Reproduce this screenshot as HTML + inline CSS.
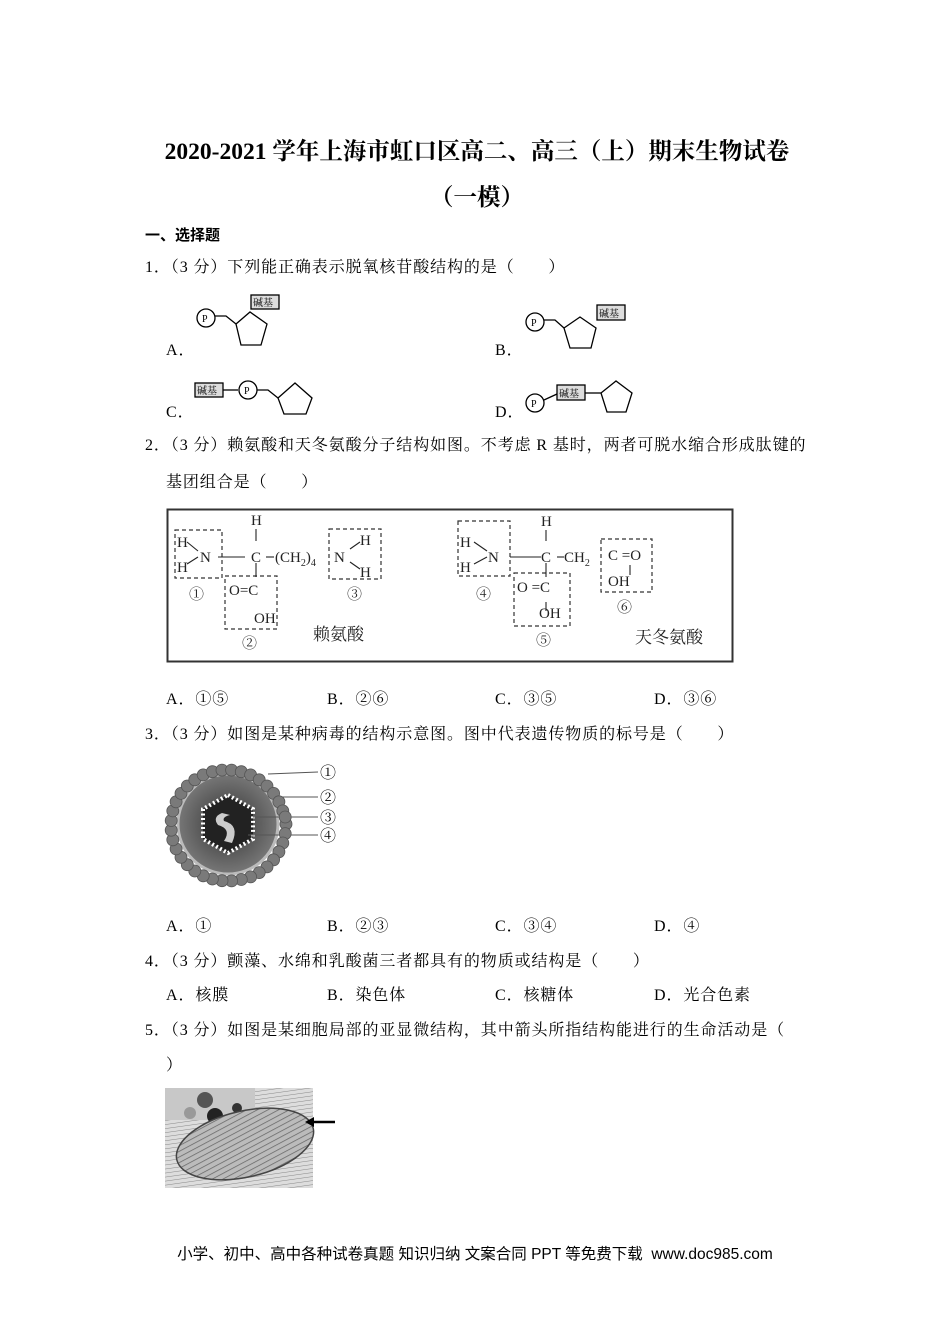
<!DOCTYPE html>
<html><head><meta charset="utf-8">
<style>
body{margin:0;background:#fff;}
#p{position:relative;width:950px;height:1344px;overflow:hidden;font-family:"Liberation Serif","Noto Serif CJK SC",serif;color:#000;font-size:16px;letter-spacing:0.9px;}
.t{position:absolute;white-space:nowrap;line-height:20px;}
svg{position:absolute;letter-spacing:0;}
.s text{font-family:"Liberation Serif","Noto Serif CJK SC",serif;}
</style></head><body><div id="p">
<div class="t" style="left:0;width:954px;text-align:center;top:137px;font-size:23.5px;line-height:30px;font-weight:bold;letter-spacing:0;">2020-2021 学年上海市虹口区高二、高三（上）期末生物试卷</div>
<div class="t" style="left:0;width:954px;text-align:center;top:183px;font-size:23.5px;line-height:30px;font-weight:bold;letter-spacing:0;">（一模）</div>
<div class="t" style="left:145px;top:226px;font-weight:bold;font-family:'Liberation Sans','Noto Sans CJK SC',sans-serif;font-size:15px;letter-spacing:0;">一、选择题</div>
<div class="t" style="left:145px;top:258px;">1．（3 分）下列能正确表示脱氧核苷酸结构的是（　　）</div>

<svg class="s" style="left:160px;top:290px" width="500" height="140" viewBox="0 0 500 140">
 <g fill="none" stroke="#000" stroke-width="1.3" font-size="10">
  <circle cx="46" cy="28" r="9"/><text x="42" y="32" stroke="none" fill="#000">P</text>
  <path d="M55 26 L66 26 L76 34"/>
  <polygon points="76,34 90,22 107,34 101,55 81,55"/>
  <rect x="91" y="5" width="28" height="14" fill="#ddd"/><text x="93" y="16" stroke="none" fill="#000" font-size="10">碱基</text>
  <circle cx="375" cy="32" r="9"/><text x="371" y="36" stroke="none" fill="#000">P</text>
  <path d="M384 30 L395 30 L404 38"/>
  <polygon points="404,38 420,27 436,38 431,58 410,58"/>
  <rect x="437" y="15" width="28" height="15" fill="#ddd"/><text x="439" y="27" stroke="none" fill="#000">碱基</text>
  <rect x="35" y="93" width="28" height="14" fill="#ddd"/><text x="37" y="104" stroke="none" fill="#000">碱基</text>
  <path d="M63 100 L78 100"/>
  <circle cx="88" cy="100" r="9"/><text x="84" y="104" stroke="none" fill="#000">P</text>
  <path d="M97 100 L108 100 L118 108"/>
  <polygon points="118,108 135,93 152,108 146,124 124,124"/>
  <circle cx="375" cy="113" r="9"/><text x="371" y="117" stroke="none" fill="#000">P</text>
  <path d="M384 110 L397 104"/>
  <rect x="397" y="95" width="28" height="15" fill="#ddd"/><text x="399" y="107" stroke="none" fill="#000">碱基</text>
  <path d="M425 103 L441 103"/>
  <polygon points="441,103 456,91 472,103 466,122 447,122"/>
 </g>
</svg>
<div class="t" style="left:166px;top:341px;">A．</div>
<div class="t" style="left:495px;top:341px;">B．</div>
<div class="t" style="left:166px;top:403px;">C．</div>
<div class="t" style="left:495px;top:403px;">D．</div>

<div class="t" style="left:145px;top:436px;">2．（3 分）赖氨酸和天冬氨酸分子结构如图。不考虑 R 基时，两者可脱水缩合形成肽键的</div>
<div class="t" style="left:166px;top:473px;">基团组合是（　　）</div>

<svg class="s" style="left:160px;top:505px" width="580" height="162" viewBox="0 0 580 162">
 <rect x="7.5" y="4.5" width="565" height="152" fill="none" stroke="#333" stroke-width="2"/>
 <g font-size="15" fill="#222">
  <g fill="none" stroke="#333" stroke-width="1.2" stroke-dasharray="4,3">
   <rect x="15" y="25" width="47" height="48"/>
   <rect x="65" y="71" width="52" height="53"/>
   <rect x="169" y="24" width="52" height="50"/>
   <rect x="298" y="16" width="52" height="55"/>
   <rect x="354" y="68" width="56" height="53"/>
   <rect x="441" y="34" width="51" height="53"/>
  </g>
  <g stroke="#222" stroke-width="1.1">
   <line x1="27" y1="37" x2="38" y2="46"/><line x1="27" y1="59" x2="38" y2="52"/>
   <line x1="58" y1="52" x2="85" y2="52"/><line x1="96" y1="24" x2="96" y2="36"/>
   <line x1="96" y1="58" x2="96" y2="72"/><line x1="106" y1="52" x2="114" y2="52"/>
   <line x1="190" y1="44" x2="200" y2="37"/><line x1="190" y1="57" x2="200" y2="64"/>
   <line x1="314" y1="37" x2="327" y2="46"/><line x1="314" y1="59" x2="327" y2="52"/>
   <line x1="350" y1="52" x2="381" y2="52"/><line x1="386" y1="25" x2="386" y2="36"/>
   <line x1="386" y1="58" x2="386" y2="72"/><line x1="397" y1="52" x2="404" y2="52"/>
   <line x1="386" y1="97" x2="386" y2="106"/><line x1="470" y1="60" x2="470" y2="70"/>
  </g>
  <text x="17" y="42">H</text><text x="17" y="67">H</text><text x="40" y="57">N</text>
  <text x="91" y="20">H</text><text x="91" y="57">C</text>
  <text x="115" y="57">(CH<tspan font-size="10" dy="4">2</tspan><tspan dy="-4">)</tspan><tspan font-size="10" dy="4">4</tspan></text>
  <text x="69" y="90">O=C</text><text x="94" y="118">OH</text>
  <text x="174" y="57">N</text><text x="200" y="40">H</text><text x="200" y="72">H</text>
  <text x="300" y="42">H</text><text x="300" y="67">H</text><text x="328" y="57">N</text>
  <text x="381" y="21">H</text><text x="381" y="57">C</text><text x="404" y="57">CH<tspan font-size="10" dy="4">2</tspan></text>
  <text x="357" y="87">O =C</text><text x="379" y="113">OH</text>
  <text x="448" y="55">C =O</text><text x="448" y="81">OH</text>
  <text x="29" y="94">①</text><text x="82" y="143">②</text><text x="187" y="94">③</text>
  <text x="316" y="94">④</text><text x="376" y="140">⑤</text><text x="457" y="107">⑥</text>
  <text x="153" y="135" font-size="17">赖氨酸</text><text x="475" y="138" font-size="17">天冬氨酸</text>
 </g>
</svg>

<div class="t" style="left:166px;top:690px;">A．①⑤</div>
<div class="t" style="left:327px;top:690px;">B．②⑥</div>
<div class="t" style="left:495px;top:690px;">C．③⑤</div>
<div class="t" style="left:654px;top:690px;">D．③⑥</div>

<div class="t" style="left:145px;top:725px;">3．（3 分）如图是某种病毒的结构示意图。图中代表遗传物质的标号是（　　）</div>

<svg class="s" style="left:160px;top:755px" width="200" height="140" viewBox="0 0 200 140">
 <defs><radialGradient id="g" cx="50%" cy="50%" r="50%"><stop offset="0" stop-color="#333"/><stop offset="1" stop-color="#777"/></radialGradient></defs>
 <circle cx="68" cy="69" r="50" fill="url(#g)" stroke="#bbb" stroke-width="3"/>
 <polygon points="68,40 93,54 93,84 68,98 43,84 43,54" fill="#222" stroke="#fff" stroke-width="4" stroke-dasharray="2,2.5"/>
 <path d="M62 58 Q52 62 58 70 Q72 74 64 86 L72 88 Q80 70 64 66 Q62 62 70 60 Z" fill="#ccc"/>
 <g stroke="#555" stroke-width="1">
  <line x1="108" y1="19" x2="158" y2="17"/><line x1="117" y1="42" x2="158" y2="42"/>
  <line x1="93" y1="62" x2="158" y2="62"/><line x1="88" y1="80" x2="158" y2="80"/>
 </g>
 <g font-size="16" fill="#000"><text x="160" y="23">①</text><text x="160" y="48">②</text><text x="160" y="68">③</text><text x="160" y="86">④</text></g>
 <g fill="#7a7a7a" stroke="#555" stroke-width="0.8">
  <circle cx="126" cy="69" r="6"/><circle cx="125.2" cy="78.6" r="6"/><circle cx="122.8" cy="88" r="6"/><circle cx="118.9" cy="96.8" r="6"/><circle cx="113.6" cy="104.8" r="6"/><circle cx="107" cy="111.9" r="6"/><circle cx="99.2" cy="117.6" r="6"/><circle cx="90.6" cy="121.9" r="6"/><circle cx="81.3" cy="124.5" r="6"/><circle cx="71.6" cy="125.9" r="6"/><circle cx="62" cy="125.7" r="6"/><circle cx="52.4" cy="124" r="6"/><circle cx="43.2" cy="120.8" r="6"/><circle cx="34.8" cy="116" r="6"/><circle cx="27.3" cy="109.7" r="6"/><circle cx="21" cy="102.3" r="6"/><circle cx="16.1" cy="93.9" r="6"/><circle cx="12.8" cy="84.8" r="6"/><circle cx="11.2" cy="75.2" r="6"/><circle cx="11.2" cy="65.5" r="6"/><circle cx="12.8" cy="55.9" r="6"/><circle cx="16.1" cy="46.8" r="6"/><circle cx="21" cy="38.4" r="6"/><circle cx="27.3" cy="31" r="6"/><circle cx="34.8" cy="24.8" r="6"/><circle cx="43.2" cy="19.9" r="6"/><circle cx="52.4" cy="16.7" r="6"/><circle cx="62" cy="15.1" r="6"/><circle cx="71.6" cy="15.1" r="6"/><circle cx="81.3" cy="16.7" r="6"/><circle cx="90.6" cy="19.9" r="6"/><circle cx="99.2" cy="24.8" r="6"/><circle cx="107" cy="31" r="6"/><circle cx="113.6" cy="38.4" r="6"/><circle cx="118.9" cy="46.8" r="6"/><circle cx="122.8" cy="55.9" r="6"/><circle cx="125.2" cy="62" r="6"/>
 </g>
</svg>

<div class="t" style="left:166px;top:917px;">A．①</div>
<div class="t" style="left:327px;top:917px;">B．②③</div>
<div class="t" style="left:495px;top:917px;">C．③④</div>
<div class="t" style="left:654px;top:917px;">D．④</div>

<div class="t" style="left:145px;top:952px;">4．（3 分）颤藻、水绵和乳酸菌三者都具有的物质或结构是（　　）</div>
<div class="t" style="left:166px;top:986px;">A．核膜</div>
<div class="t" style="left:327px;top:986px;">B．染色体</div>
<div class="t" style="left:495px;top:986px;">C．核糖体</div>
<div class="t" style="left:654px;top:986px;">D．光合色素</div>

<div class="t" style="left:145px;top:1021px;">5．（3 分）如图是某细胞局部的亚显微结构，其中箭头所指结构能进行的生命活动是（</div>
<div class="t" style="left:166px;top:1056px;">）</div>

<svg style="left:165px;top:1088px" width="175" height="102" viewBox="0 0 175 102">
 <defs><pattern id="st" width="5" height="6" patternUnits="userSpaceOnUse" patternTransform="rotate(75)"><rect width="5" height="6" fill="#bbb"/><line x1="0" y1="0" x2="0" y2="6" stroke="#666" stroke-width="1.5"/></pattern>
 <pattern id="hz" width="6" height="4" patternUnits="userSpaceOnUse" patternTransform="rotate(-8)"><rect width="6" height="4" fill="#ddd"/><line x1="0" y1="0" x2="6" y2="0" stroke="#888" stroke-width="1"/></pattern></defs>
 <rect x="0" y="0" width="148" height="100" fill="url(#hz)"/>
 <rect x="0" y="0" width="90" height="32" fill="#c8c8c8"/>
 <circle cx="40" cy="12" r="8" fill="#555"/><circle cx="50" cy="28" r="8" fill="#222"/><circle cx="25" cy="25" r="6" fill="#999"/><circle cx="72" cy="20" r="5" fill="#333"/>
 <ellipse cx="80" cy="56" rx="70" ry="33" transform="rotate(-13 80 56)" fill="url(#st)" stroke="#444" stroke-width="1.5"/>
 <line x1="170" y1="34" x2="146" y2="34" stroke="#000" stroke-width="2.5"/>
 <polygon points="140,34 149,29 149,39" fill="#000"/>
</svg>

<div class="t" style="left:0;width:950px;text-align:center;top:1245px;font-family:'Liberation Sans','Noto Sans CJK SC',sans-serif;font-size:15.5px;letter-spacing:0;">小学、初中、高中各种试卷真题 知识归纳 文案合同 PPT 等免费下载 &nbsp;www.doc985.com</div>
</div></body></html>
